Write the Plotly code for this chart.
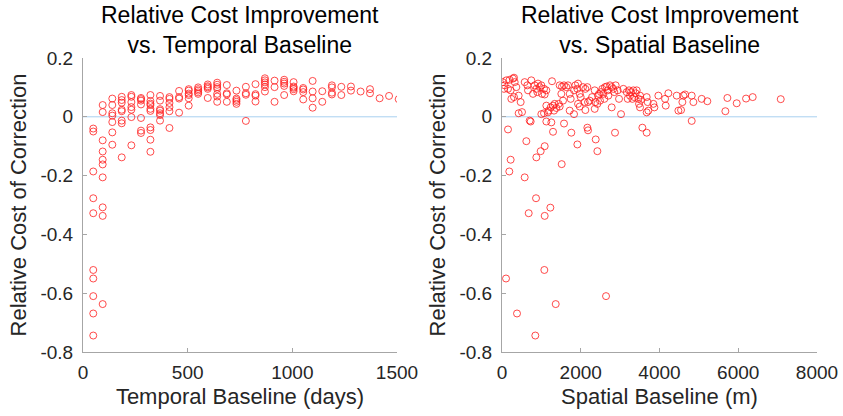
import plotly.graph_objects as go

# ---------------- Data: temporal baseline panel ----------------
temporal_days = (
    [49]*10 + [94]*10 + [140]*7 + [185]*8 + [231]*7 + [277]*7 + [322]*10 + [368]*7 +
    [413]*6 + [459]*4 + [505]*6 + [550]*5 + [596]*5 + [641]*7 + [687]*4 + [733]*5 +
    [778]*4 + [824]*4 + [869]*6 + [915]*3 + [961]*5 + [1006]*5 + [1052]*4 + [1097]*4 +
    [1143]*2 + [1189]*4 + [1234]*2 + [1280]*2 + [1326]*1 + [1371]*2 + [1417]*1 +
    [1462]*1 + [1508]*1
)
cost_temporal = [
    -0.04, -0.05, -0.186, -0.277, -0.328, -0.521, -0.55, -0.61, -0.669, -0.744,
    0.040, 0.016, -0.080, -0.118, -0.146, -0.162, -0.206, -0.308, -0.337, -0.637,
    0.062, 0.040, 0.012, 0.004, -0.018, -0.053, -0.095,
    0.068, 0.057, 0.048, 0.024, 0.019, -0.013, -0.022, -0.138,
    0.074, 0.068, 0.050, 0.033, 0.024, -0.001, -0.097,
    0.064, 0.060, 0.055, 0.042, -0.004, -0.047, -0.055,
    0.074, 0.054, 0.045, 0.040, 0.027, 0.020, -0.036, -0.045, -0.078, -0.119,
    0.071, 0.055, 0.026, 0.021, 0.012, 0.006, -0.013,
    0.067, 0.061, 0.047, 0.033, 0.019, -0.038,
    0.088, 0.067, 0.062, 0.014,
    0.094, 0.089, 0.079, 0.074, 0.063, 0.038,
    0.100, 0.094, 0.089, 0.083, 0.078,
    0.110, 0.104, 0.100, 0.095, 0.064,
    0.116, 0.109, 0.101, 0.095, 0.078, 0.069, 0.051,
    0.108, 0.080, 0.076, 0.051,
    0.089, 0.062, 0.057, 0.051, 0.044,
    0.102, 0.080, 0.075, -0.014,
    0.111, 0.077, 0.072, 0.052,
    0.131, 0.124, 0.117, 0.110, 0.101, 0.086,
    0.123, 0.101, 0.051,
    0.126, 0.119, 0.113, 0.105, 0.074,
    0.118, 0.103, 0.099, 0.094, 0.087,
    0.098, 0.093, 0.084, 0.059,
    0.122, 0.086, 0.063, 0.031,
    0.087, 0.051,
    0.107, 0.100, 0.082, 0.076,
    0.102, 0.074,
    0.103, 0.089,
    0.086,
    0.094, 0.080,
    0.063,
    0.071,
    0.060,
]

# ---------------- Data: spatial baseline panel ----------------
spatial_m = [
    17, 67, 110, 194, 279, 322, 364, 305, 50, 152, 220, 423, 474, 237, 305,
    576, 643, 660, 745, 787, 830, 872, 914, 897, 957, 999, 1016, 1067, 1126, 1084,
    1270, 1465, 1524, 1575, 1634, 1677, 1507, 1550, 1719, 1744, 1829, 1863, 1931, 1914,
    1973, 1998, 2058, 2117, 2168, 2185, 2227, 2287, 2354, 2371, 2422, 2439,
    1931, 1973, 2100, 1719, 1829, 2117, 2354,
    1126, 1168, 1186, 1236, 1296, 1338, 1380, 1440, 1465, 1321, 999, 1067, 423, 508,
    703, 728, 1126, 1253, 1575, 152, 1296, 1761, 2168, 2185, 2380, 618, 1914, 1084,
    982, 872, 2422, 220, 186, 576, 1516,
    2464, 2489, 2514, 2548, 2574, 2599, 2616, 2658, 2684, 2701, 2743, 2786, 2786,
    2828, 2853, 2887, 2938, 2972, 3023, 3082, 3167, 3192, 3226, 3251, 3277, 3311,
    3336, 3361, 3395, 3421, 3463, 3505, 3531, 3480, 3505, 3675, 3700, 3717, 3675,
    3844, 3870, 3971, 4141, 4158, 4225, 4437, 4480, 4547, 4581, 4607, 4649, 4818,
    4861, 4818, 3565, 3675, 2870,
    5071, 5215, 5724, 5961, 6198, 6367, 7079, 5673,
    864, 1228, 678, 1084, 1075, 102, 2642, 1364, 381, 846,
]
cost_spatial = [
    0.118, 0.107, 0.124, 0.126, 0.130, 0.118, 0.101, 0.133, 0.095, 0.095, 0.090, 0.072, 0.050, 0.061, 0.067,
    0.118, 0.107, 0.090, 0.124, 0.078, 0.107, 0.095, 0.113, 0.084, 0.101, 0.107, 0.078, 0.095, 0.090, 0.076,
    0.121, 0.107, 0.103, 0.107, 0.101, 0.107, 0.078, 0.055, 0.078, 0.061, 0.090, 0.107, 0.113, 0.095,
    0.078, 0.067, 0.101, 0.095, 0.101, 0.050, 0.055, 0.067, 0.090, 0.050, 0.044, 0.072,
    0.044, 0.035, 0.050, 0.021, 0.009, 0.023, 0.027,
    0.038, 0.015, 0.021, 0.032, 0.038, 0.044, 0.030, 0.044, 0.035, 0.021, 0.009, 0.012, 0.012, 0.016,
    -0.013, -0.016, -0.016, -0.019, -0.023, -0.043, -0.051, -0.054, -0.037, -0.046, -0.077, -0.083, -0.094, -0.100,
    -0.117, -0.138, -0.117, -0.146, -0.186, -0.206, -0.161,
    0.078, 0.055, 0.084, 0.095, 0.078, 0.061, 0.101, 0.103, 0.090, 0.072, 0.107, 0.101, 0.032,
    0.095, 0.084, 0.107, 0.090, 0.061, 0.009, 0.095, 0.084, 0.061, 0.090, 0.072, 0.084, 0.061,
    0.090, 0.067, 0.080, 0.090, 0.061, 0.072, 0.058, 0.044, 0.032, 0.067, 0.050, 0.021, 0.015,
    0.044, 0.032, 0.072, 0.061, 0.038, 0.080, 0.072, 0.021, 0.023, 0.050, 0.072, 0.076, 0.072,
    0.050, -0.014, -0.037, -0.054, -0.054,
    0.061, 0.053, 0.064, 0.046, 0.062, 0.067, 0.060, 0.019,
    -0.277, -0.309, -0.328, -0.337, -0.521, -0.550, -0.610, -0.637, -0.669, -0.744,
]

y_ticks = [-0.8, -0.6, -0.4, -0.2, 0, 0.2]
y_tick_text = ["-0.8", "-0.6", "-0.4", "-0.2", "0", "0.2"]
x_ticks_temporal = [0, 500, 1000, 1500]
x_ticks_spatial = [0, 2000, 4000, 6000, 8000]

FONT = "Liberation Sans, Arial, Helvetica, sans-serif"
W, H = 843, 416
marker = dict(symbol="circle-open", size=7, color="rgba(255,30,30,0.8)",
              line=dict(width=1, color="rgba(255,30,30,0.8)"))

fig = go.Figure()
fig.add_trace(go.Scatter(x=temporal_days, y=cost_temporal, mode="markers",
                         marker=marker, xaxis="x", yaxis="y", showlegend=False))
fig.add_trace(go.Scatter(x=spatial_m, y=cost_spatial, mode="markers",
                         marker=marker, xaxis="x2", yaxis="y2", showlegend=False))

axis_common = dict(showline=True, linecolor="#a6a6a6", linewidth=1, mirror=False,
                   ticks="inside", ticklen=4, tickcolor="#a6a6a6", showgrid=False,
                   zeroline=False, automargin=False,
                   tickfont=dict(family=FONT, size=19, color="#262626"))

xl = [83 / W, 397 / W]
xr = [502 / W, 817 / W]
yd = [1 - 352 / H, 1 - 58 / H]

xt = dict(font=dict(size=22, family=FONT, color="#262626"), standoff=6)
yt = dict(text="Relative Cost of Correction", font=dict(size=22, family=FONT, color="#262626"), standoff=7)

fig.update_layout(
    width=W, height=H, margin=dict(l=0, r=0, t=0, b=0, autoexpand=False),
    paper_bgcolor="white", plot_bgcolor="white",
    font=dict(family=FONT, color="#262626"),
    xaxis=dict(domain=xl, range=[0, 1500], tickvals=x_ticks_temporal, anchor="y",
               ticklabelstandoff=3,
               title=dict(text="Temporal Baseline (days)", **xt), **axis_common),
    yaxis=dict(domain=yd, range=[-0.8, 0.2], tickvals=y_ticks, ticktext=y_tick_text, anchor="x",
               ticklabelstandoff=5, title=yt, **axis_common),
    xaxis2=dict(domain=xr, range=[0, 8000], tickvals=x_ticks_spatial, anchor="y2",
                ticklabelstandoff=3,
                title=dict(text="Spatial Baseline (m)", **xt), **axis_common),
    yaxis2=dict(domain=yd, range=[-0.8, 0.2], tickvals=y_ticks, ticktext=y_tick_text, anchor="x2",
                ticklabelstandoff=5, title=yt, **axis_common),
)

for xref, yref in (("x domain", "y"), ("x2 domain", "y2")):
    fig.add_shape(type="line", xref=xref, yref=yref, x0=0, x1=1, y0=0, y1=0,
                  line=dict(color="#a9d1f0", width=1), layer="below")

for cx, txt in (((xl[0] + xl[1]) / 2, "Relative Cost Improvement<br>vs. Temporal Baseline"),
                ((xr[0] + xr[1]) / 2, "Relative Cost Improvement<br>vs. Spatial Baseline")):
    fig.add_annotation(x=cx, y=1.0, xref="paper", yref="paper", xanchor="center",
                       yanchor="top", text=txt, showarrow=False,
                       font=dict(family=FONT, size=23, color="black"))

fig.write_html("out.html")
